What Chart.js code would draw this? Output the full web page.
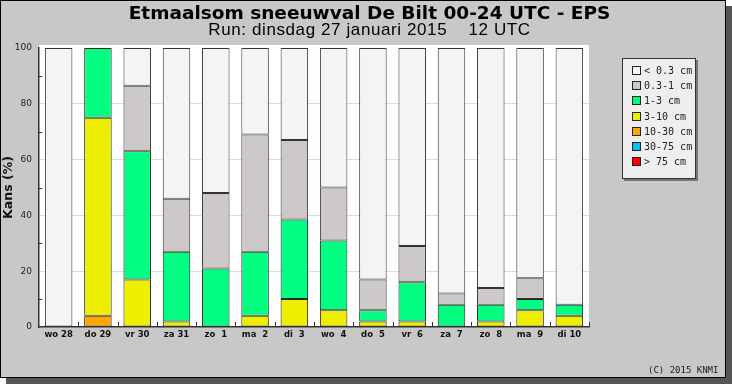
<!DOCTYPE html>
<html>
<head>
<meta charset="utf-8">
<script src="https://cdn.jsdelivr.net/npm/chart.js"></script>
<style>
  body { margin: 0; background: #fff; }
  #frame {
    position: absolute; left: 0; top: 0;
    width: 724px; height: 376px;
    border: 1px solid #000;
    background: #c8c8c8;
    box-shadow: 6px 6px 0 #555;
  }
  #frame canvas { position: absolute; left: 0; top: 0; }
  .title {
    position: absolute; left: 0; width: 737px;
    text-align: center; white-space: pre; color: #000;
  }
  #title {
    top: 3px; font-family: "DejaVu Sans", sans-serif; font-weight: bold;
    font-size: 18.5px; line-height: 18.5px;
  }
  #subtitle {
    top: 20px; font-family: "Liberation Sans", Arial, sans-serif;
    font-size: 17px; line-height: 17px; letter-spacing: 0.6px;
  }
  #legend {
    position: absolute; left: 621px; top: 57px;
    width: 72px; height: 115px;
    background: #eeeeee;
    border: 1px solid #333;
    box-shadow: 2px 2px 0 #777;
    padding-top: 4px;
    box-sizing: content-box;
    font-family: "DejaVu Sans Mono", monospace;
    font-size: 10px;
    color: #222;
  }
  .item { height: 15.2px; line-height: 15.2px; padding-left: 9px; white-space: pre; }
  .sw {
    display: inline-block; width: 7px; height: 7px;
    border: 1px solid #222; vertical-align: -1px; margin-right: 3px;
  }
  #copy {
    position: absolute; left: 647px; top: 364px;
    font-family: "DejaVu Sans Mono", monospace;
    font-size: 9px; color: #222; white-space: pre;
  }
</style>
</head>
<body>
<div id="frame">
  <canvas id="snow" width="724" height="376"></canvas>
  <div class="title" id="title">Etmaalsom sneeuwval De Bilt 00-24 UTC - EPS</div>
  <div class="title" id="subtitle">Run: dinsdag 27 januari 2015    12 UTC</div>
  <div id="legend"></div>
  <div id="copy">(C) 2015 KNMI</div>
</div>
<script>
// dagen (x-as)
const days = ['wo 28', 'do 29', 'vr 30', 'za 31', 'zo  1', 'ma  2', 'di  3',
              'wo  4', 'do  5', 'vr  6', 'za  7', 'zo  8', 'ma  9', 'di 10'];

const pLt03   = [100, 0, 13.5, 54, 52, 31, 33, 50, 83, 71, 88, 86, 82.5, 92];
const p03to1  = [0, 0, 23.5, 19, 27, 42, 28.5, 19, 11, 13, 4, 6, 7.5, 0];
const p1to3   = [0, 25, 46, 25, 21, 23, 28.5, 25, 4, 14, 8, 6, 4, 4];
const p3to10  = [0, 71, 17, 2, 0, 4, 10, 6, 2, 2, 0, 2, 6, 4];
const p10to30 = [0, 4, 0, 0, 0, 0, 0, 0, 0, 0, 0, 0, 0, 0];
const p30to75 = [0, 0, 0, 0, 0, 0, 0, 0, 0, 0, 0, 0, 0, 0];
const pGt75   = [0, 0, 0, 0, 0, 0, 0, 0, 0, 0, 0, 0, 0, 0];

const yTicks = [0, 20, 40, 60, 80, 100];
const yMinor = [10, 30, 50, 70, 90];

// onderste klasse eerst (stapelvolgorde)
const classes = [
  { label: '> 75 cm',  data: pGt75,   color: '#ff0000', edge: '#222' },
  { label: '30-75 cm', data: p30to75, color: '#00bfff', edge: '#222' },
  { label: '10-30 cm', data: p10to30, color: '#ffa500', edge: '#222' },
  { label: '3-10 cm',  data: p3to10,  color: '#eeee00', edge: '#222' },
  { label: '1-3 cm',   data: p1to3,   color: '#00ff80', edge: '#222' },
  { label: '0.3-1 cm', data: p03to1,  color: '#cdc9c9', edge: '#333' },
  { label: '< 0.3 cm', data: pLt03,   color: '#f4f4f4', edge: '#333' }
];

function buildLegend() {
  const box = document.getElementById('legend');
  for (let i = classes.length - 1; i >= 0; i--) {
    const row = document.createElement('div');
    row.className = 'item';
    const sw = document.createElement('span');
    sw.className = 'sw';
    sw.style.background = classes[i].color;
    row.appendChild(sw);
    row.appendChild(document.createTextNode(classes[i].label));
    box.appendChild(row);
  }
}

// witte plotachtergrond + kleine streepjes langs de assen
const plotDecor = {
  id: 'plotDecor',
  beforeDraw(chart) {
    const a = chart.chartArea;
    const ctx = chart.ctx;
    ctx.save();
    ctx.fillStyle = '#ffffff';
    ctx.fillRect(a.left, a.top - 3, a.right - a.left, a.bottom - a.top + 3);
    ctx.restore();
  },
  afterDatasetsDraw(chart) {
    const a = chart.chartArea;
    const ctx = chart.ctx;
    const y = chart.scales.y;
    const x = chart.scales.x;
    const half = (x.getPixelForValue(1) - x.getPixelForValue(0)) / 2;
    ctx.save();
    ctx.strokeStyle = '#333';
    ctx.lineWidth = 1;
    ctx.beginPath();
    yMinor.forEach(v => {
      const py = Math.round(y.getPixelForValue(v)) + 0.5;
      ctx.moveTo(a.left, py);
      ctx.lineTo(a.left + 3, py);
    });
    for (let i = 0; i < days.length; i++) {
      const px = Math.round(x.getPixelForValue(i) + half) + 0.5;
      ctx.moveTo(px, a.bottom);
      ctx.lineTo(px, a.bottom - 5);
    }
    ctx.stroke();
    ctx.restore();
  }
};

function drawChart() {
  const ctx = document.getElementById('snow');
  new Chart(ctx, {
    type: 'bar',
    data: {
      labels: days,
      datasets: classes.map(c => ({
        label: c.label,
        data: c.data.map(v => v === 0 ? null : v),
        backgroundColor: c.color,
        borderColor: c.edge,
        borderWidth: 1,
        borderSkipped: false,
        barPercentage: 0.7,
        categoryPercentage: 1.0
      }))
    },
    options: {
      responsive: false,
      animation: false,
      layout: { padding: { left: 0, right: 136, top: 47, bottom: 0 } },
      plugins: {
        legend: { display: false },
        tooltip: { enabled: false }
      },
      scales: {
        x: {
          stacked: true,
          grid: { display: false, drawTicks: false },
          border: { display: true, color: '#333', width: 1.5 },
          ticks: {
            color: '#111',
            padding: 3,
            autoSkip: false,
            maxRotation: 0,
            font: { family: 'DejaVu Sans', size: 8.5, weight: 'bold' }
          },
          afterFit: function(scale) { scale.height = 50; }
        },
        y: {
          stacked: true,
          min: 0,
          max: 100,
          afterBuildTicks: function(scale) {
            scale.ticks = yTicks.map(v => ({ value: v }));
          },
          grid: {
            drawTicks: false,
            color: function(c) {
              return (c.tick && (c.tick.value === 100 || c.tick.value === 0)) ? 'rgba(0,0,0,0)' : '#dcdcdc';
            }
          },
          border: { display: true, color: '#333', width: 1.5 },
          ticks: {
            color: '#222',
            padding: 7,
            font: { family: 'DejaVu Sans', size: 9 }
          },
          title: {
            display: true,
            text: 'Kans (%)',
            color: '#111',
            padding: 0,
            font: { family: 'DejaVu Sans', size: 12.5, weight: 'bold', lineHeight: 1.2 }
          },
          afterFit: function(scale) { scale.width = 38; }
        }
      }
    },
    plugins: [plotDecor]
  });
}

buildLegend();
drawChart();
</script>
</body>
</html>
